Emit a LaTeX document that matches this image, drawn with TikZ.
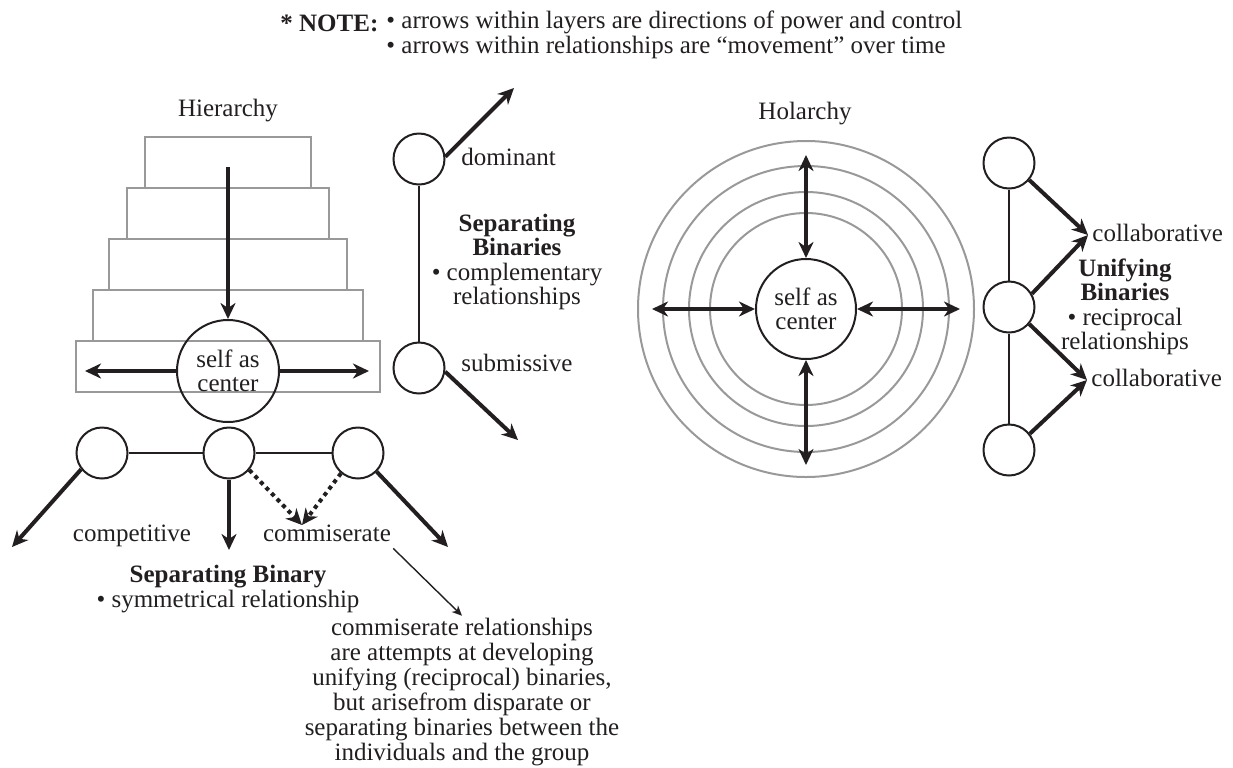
\documentclass[tikz,border=0pt]{standalone}
\usepackage{fontspec}
\setmainfont{Liberation Serif}
\usetikzlibrary{arrows.meta, positioning}
\definecolor{ink}{HTML}{231F20}

\begin{document}
\begin{tikzpicture}[
		x=0.5pt, y=-0.5pt,
		>=Stealth,
		color=ink,
		every node/.style={font=\fontsize{12.5}{12.2}\selectfont, inner sep=1pt},
		caption/.style={text height=8.5pt, text depth=2.5pt},
		heading/.style={font=\fontsize{12.5}{12.2}\selectfont\bfseries},
		layer/.style={draw=black!40, line width=1pt, minimum height=25.5pt, inner sep=0pt},
		ring/.style={draw=black!40, line width=1pt},
		person/.style={draw, circle, line width=1pt, minimum size=25.5pt, inner sep=0pt},
		selfnode/.style={draw, circle, line width=1pt, minimum size=51pt, inner sep=0pt, align=center},
		tie/.style={line width=1pt},
		power/.style={-{Stealth[length=8pt, width=7.5pt, inset=2.5pt]}, line width=2pt},
		mutual/.style={{Stealth[length=8pt, width=7.5pt, inset=2.5pt]}-{Stealth[length=8pt, width=7.5pt, inset=2.5pt]}, line width=2pt},
		pity/.style={power, dash pattern=on 2pt off 2pt},
		pointer/.style={-{Stealth[length=5pt, width=4.5pt, inset=1.5pt]}, line width=0.7pt}
	]
	\useasboundingbox (0,0) rectangle (1233,767);

	% Note
	\node[caption, heading, anchor=west] (notehead) at (278,25) {* NOTE:};
	\node[anchor=west, align=left, font=\fontsize{12.5}{10.5}\selectfont] (notelist) at (384,35) {• arrows within layers are directions of power and control\\• arrows within relationships are “movement” over time};

	% Hierarchy
	\foreach \w [count=\i] in {166,202,238,270,304}
		\node[layer, minimum width=\w*0.5pt] (layer\i) at (228,111.5+51*\i) {};
	\node[caption, above=6pt of layer1] (hiertitle) {Hierarchy};
	\node[selfnode] (selfh) at (228,371) {self as\\center};

	\coordinate (hiertop) at (228,167);
	\coordinate (hierleft) at (85,371);
	\coordinate (hierright) at (369,371);
	\draw[power] (hiertop) -- (selfh.north);
	\draw[power] (selfh.west) -- (hierleft);
	\draw[power] (selfh.east) -- (hierright);

	% Symmetrical binary
	\node[person] (compb) at (229,453) {};
	\node[person, left=37pt of compb] (compa) {};
	\node[person, right=38pt of compb] (compc) {};
	\draw[tie] (compa) -- (compb) -- (compc);

	\coordinate (compaend) at (12,547);
	\coordinate (compbend) at (229,550);
	\coordinate (compcend) at (448,547);
	\coordinate (commis) at (302,525);
	\draw[power] (compa.218) -- (compaend);
	\draw[power] (compb.south) -- (compbend);
	\draw[power] (compc.-45) -- (compcend);
	\draw[pity] (compb.-40) -- (commis);
	\draw[pity] (compc.230) -- (commis);

	\node[caption] (competitive) at (132,535) {competitive};
	\node[caption] (commiserate) at (327,535) {commiserate};
	\node[align=center] (symlabel) at (228,589) {\textbf{Separating Binary}\\• symmetrical relationship};

	\node[align=center, font=\fontsize{12.5}{12.5}\selectfont] (commisnote) at (462,692) {commiserate relationships\\are attempts at developing\\unifying (reciprocal) binaries,\\but arisefrom disparate or\\separating binaries between the\\individuals and the group};
	\draw[pointer] (commiserate.south east) -- (commisnote.north);

	% Complementary binary
	\node[person] (dom) at (419,159) {};
	\node[person] (sub) at (419,368) {};
	\draw[tie] (dom) -- (sub);
	\coordinate (domend) at (514,88);
	\coordinate (subend) at (518,440);
	\draw[power] (dom.5) -- (domend);
	\draw[power] (sub.-8) -- (subend);
	\node[caption, right=6.75pt of dom.east] (domlabel) {dominant};
	\node[caption, right=6.75pt of sub.east, yshift=1.5pt] (sublabel) {submissive};
	\node[align=center] (complabel) at (517,262) {\textbf{Separating}\\\textbf{Binaries}\\• complementary\\relationships};

	% Holarchy
	\coordinate (holc) at (806,309);
	\foreach \r in {168,143,117,96}
		\draw[ring] (holc) circle[radius=\r];
	\node[caption] (holtitle) at (805,113) {Holarchy};
	\node[selfnode, minimum size=50pt] (selfo) at (holc) {self as\\center};

	\coordinate (holn) at (806,155);
	\coordinate (hols) at (806,465);
	\coordinate (holw) at (652,309);
	\coordinate (hole) at (960,309);
	\draw[mutual] (selfo.north) -- (holn);
	\draw[mutual] (selfo.south) -- (hols);
	\draw[mutual] (selfo.west) -- (holw);
	\draw[mutual] (selfo.east) -- (hole);

	% Reciprocal binaries
	\node[person] (cola) at (1009,163) {};
	\node[person] (colb) at (1009,307) {};
	\node[person] (colc) at (1009,450) {};
	\draw[tie] (cola) -- (colb) -- (colc);

	\coordinate (meetup) at (1088,235);
	\coordinate (meetdown) at (1087,380);
	\draw[power] (cola.-40) -- (meetup);
	\draw[power] (colb.30) -- (meetup);
	\draw[power] (colb.-40) -- (meetdown);
	\draw[power] (colc.38) -- (meetdown);

	\node[caption, right=1pt of meetup] (colup) {collaborative};
	\node[caption, right=1pt of meetdown] (coldown) {collaborative};
	\node[align=center] (unilabel) at (1125,307) {\textbf{Unifying}\\\textbf{Binaries}\\• reciprocal\\relationships};

\end{tikzpicture}
\end{document}
